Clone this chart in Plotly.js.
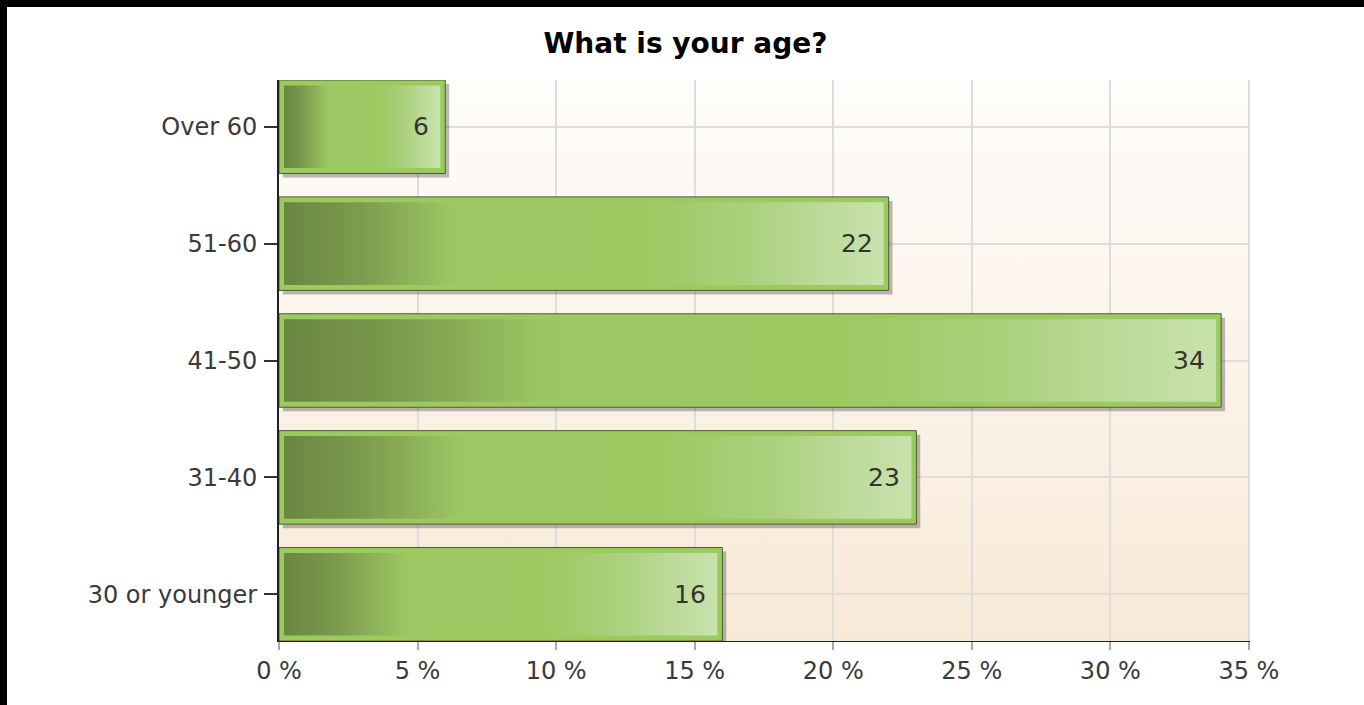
<!DOCTYPE html>
<html>
<head>
<meta charset="utf-8">
<script src="https://cdn.plot.ly/plotly-3.0.1.min.js"></script>
<style>
  html, body { margin: 0; padding: 0; background: #000; width: 1364px; height: 705px; overflow: hidden; }
  #chart { position: absolute; left: 7px; top: 7px; width: 1357px; height: 698px; background: #fff; }
</style>
</head>
<body>
<div id="chart"></div>
<script>
// ---- data ----
const categories = ["30 or younger", "31-40", "41-50", "51-60", "Over 60"];
const percentValues = [16, 23, 34, 22, 6];
const xTickValues = [0, 5, 10, 15, 20, 25, 30, 35];
const chartTitle = "What is your age?";

// ---- styling constants ----
const FONT = "DejaVu Sans, Verdana, sans-serif";
const BAR_WIDTH = 0.8;
const positions = categories.map((c, i) => i);

// inset of inner gradient panel (in data units, approx 5px)
const insetX = 0.18, insetY = 0.047;
// shadow offset (approx 4px)
const shadowX = 0.14, shadowY = 0.035;

const gradientScale = [
  [0.00, "#6a8742"],
  [0.12, "#7a9a4c"],
  [0.28, "#9cc663"],
  [0.60, "#9dc862"],
  [0.78, "#abd17e"],
  [0.90, "#bcdb9a"],
  [1.00, "#c9e2ac"]
];

const traces = [];

// drop shadow bars
traces.push({
  type: "bar", orientation: "h",
  y: positions, x: percentValues,
  base: percentValues.map(() => shadowX),
  width: BAR_WIDTH, offset: -BAR_WIDTH / 2 - shadowY,
  marker: { color: "rgba(60,60,60,0.35)", line: { width: 0 } },
  hoverinfo: "skip", showlegend: false
});

// outer light-green bars
traces.push({
  type: "bar", orientation: "h",
  y: positions, x: percentValues,
  width: BAR_WIDTH,
  marker: { color: "#9bcb5e", line: { color: "#4d5a3a", width: 1 } },
  hoverinfo: "skip", showlegend: false
});

// inner gradient panels
percentValues.forEach((v, i) => {
  const h = BAR_WIDTH / 2 - insetY;
  traces.push({
    type: "scatter", mode: "lines",
    x: [insetX, v - insetX, v - insetX, insetX, insetX],
    y: [i - h, i - h, i + h, i + h, i - h],
    fill: "toself",
    fillgradient: { type: "horizontal", colorscale: gradientScale },
    line: { width: 0, color: "rgba(0,0,0,0)" },
    hoverinfo: "skip", showlegend: false
  });
});

// background gradient image for the plot area
const bgSvg = '<svg xmlns="http://www.w3.org/2000/svg" width="100" height="100" viewBox="0 0 100 100" preserveAspectRatio="none">' +
  '<defs><linearGradient id="g" x1="0" y1="0" x2="0" y2="1">' +
  '<stop offset="0" stop-color="#fefdfb"/><stop offset="1" stop-color="#f8e9d7"/>' +
  '</linearGradient></defs><rect width="100" height="100" fill="url(#g)"/></svg>';
const bgUri = "data:image/svg+xml;charset=utf-8," + encodeURIComponent(bgSvg);

const annotations = percentValues.map((v, i) => ({
  x: v, y: i, xref: "x", yref: "y",
  text: String(v), showarrow: false,
  xanchor: "right", yanchor: "middle", xshift: -14,
  font: { family: FONT, size: 25, color: "#333" }
}));

const layout = {
  width: 1357, height: 698,
  margin: { l: 272, r: 114, t: 73, b: 64, pad: 0 },
  paper_bgcolor: "#ffffff",
  plot_bgcolor: "rgba(0,0,0,0)",
  barmode: "overlay",
  showlegend: false,
  title: {
    text: chartTitle,
    x: 0.5, xref: "container", xanchor: "center",
    y: 1 - 36 / 698, yref: "container", yanchor: "middle",
    font: { family: FONT, size: 28, weight: "bold", color: "#000" }
  },
  xaxis: {
    range: [0, 35.04],
    tickmode: "array",
    tickvals: xTickValues,
    ticktext: xTickValues.map(v => v + " %"),
    showgrid: true, gridcolor: "#dddddd", gridwidth: 2,
    zeroline: false,
    showline: true, linecolor: "#222", linewidth: 1,
    ticks: "outside", ticklen: 8, tickcolor: "#aaaaaa", tickwidth: 2,
    tickfont: { family: FONT, size: 24, color: "#3a3a3a" },
    fixedrange: true
  },
  yaxis: {
    range: [-0.4, 4.4],
    tickmode: "array",
    tickvals: positions,
    ticktext: categories,
    showgrid: true, gridcolor: "#e2dcd6", gridwidth: 2,
    zeroline: false,
    showline: true, linecolor: "#222", linewidth: 2,
    ticks: "outside", ticklen: 13, tickcolor: "#333", tickwidth: 2,
    tickfont: { family: FONT, size: 24, color: "#3a3a3a" },
    ticklabelstandoff: 2,
    fixedrange: true
  },
  images: [{
    source: bgUri, xref: "paper", yref: "paper",
    x: 0, y: 1, sizex: 1, sizey: 1,
    xanchor: "left", yanchor: "top",
    sizing: "stretch", layer: "below"
  }],
  annotations: annotations
};

Plotly.newPlot("chart", traces, layout, { displayModeBar: false, staticPlot: true });
</script>
</body>
</html>
